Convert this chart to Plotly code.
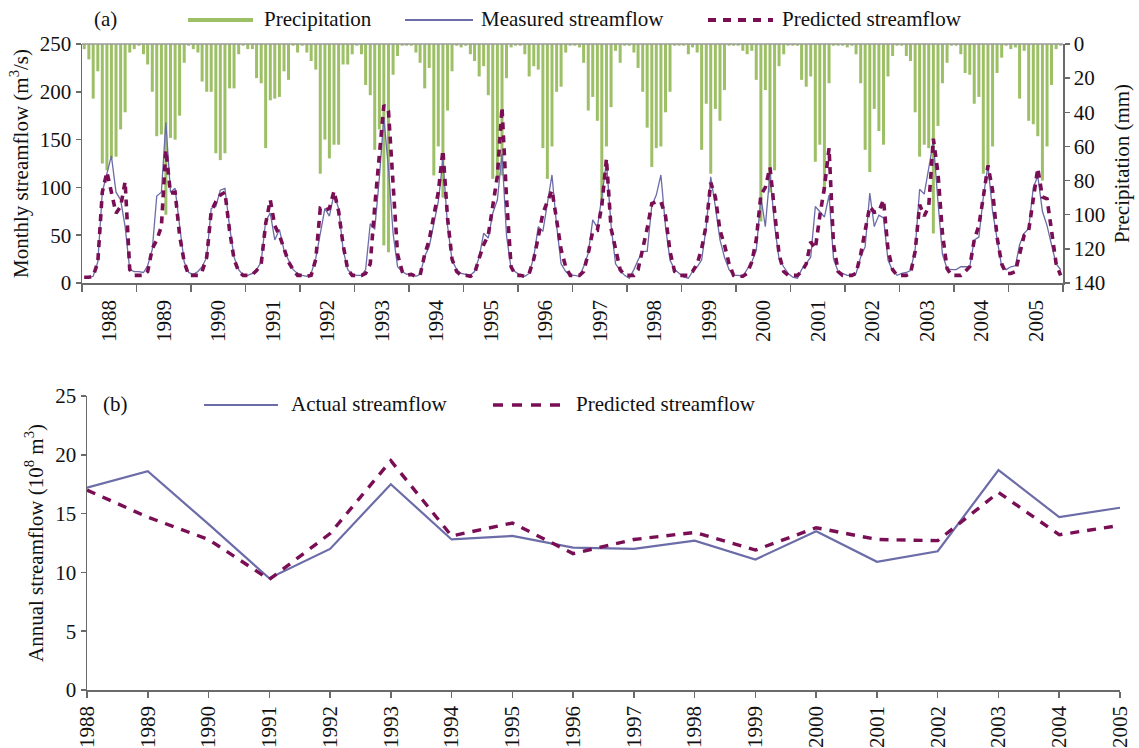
import plotly.graph_objects as go

# ---------------- data ----------------
years = list(range(1988, 2006))
month_numbers = list(range(1, 13))

# monthly precipitation (mm), one row per year (Jan..Dec)
precip_monthly = [
    3, 9, 32, 16, 70, 74, 67, 66, 50, 40, 5, 3,        # 1988
    1, 6, 12, 28, 54, 53, 100, 55, 56, 42, 11, 1,      # 1989
    3, 5, 22, 28, 28, 64, 68, 64, 26, 26, 6, 1,        # 1990
    3, 3, 20, 23, 61, 33, 32, 31, 16, 21, 1, 5,        # 1991
    1, 5, 10, 15, 76, 56, 67, 59, 59, 12, 12, 6,       # 1992
    1, 6, 24, 30, 62, 50, 118, 122, 18, 7, 1, 1,       # 1993
    1, 5, 11, 26, 14, 77, 60, 90, 39, 16, 1, 2,        # 1994
    1, 6, 10, 19, 13, 30, 79, 79, 77, 20, 2, 1,        # 1995
    1, 6, 19, 13, 15, 61, 79, 60, 28, 25, 5, 1,        # 1996
    1, 2, 11, 39, 31, 45, 91, 60, 37, 4, 11, 1,        # 1997
    1, 5, 14, 28, 49, 72, 61, 60, 40, 28, 1, 1,        # 1998
    1, 6, 2, 5, 62, 35, 76, 38, 45, 27, 1, 1,          # 1999
    1, 4, 6, 4, 21, 104, 27, 87, 74, 13, 6, 1,         # 2000
    1, 1, 21, 25, 19, 69, 59, 87, 23, 1, 1, 1,         # 2001
    2, 1, 6, 23, 62, 75, 38, 51, 59, 19, 7, 1,         # 2002
    1, 7, 10, 40, 66, 59, 61, 111, 48, 23, 11, 1,      # 2003
    1, 6, 17, 18, 35, 31, 76, 74, 60, 17, 8, 1,        # 2004
    3, 2, 32, 4, 45, 47, 54, 80, 60, 24, 3, 1,         # 2005
]

# measured monthly streamflow (m3/s)
measured_monthly = [
    6, 6, 7, 22, 95, 116, 133, 95, 87, 59, 14, 12,     # 1988
    12, 11, 18, 35, 91, 95, 168, 95, 99, 60, 22, 11,   # 1989
    9, 12, 17, 27, 78, 80, 97, 99, 59, 27, 14, 8,      # 1990
    8, 10, 14, 22, 65, 73, 45, 56, 34, 24, 14, 10,     # 1991
    8, 7, 10, 26, 52, 78, 70, 93, 78, 35, 14, 9,       # 1992
    8, 8, 14, 62, 56, 110, 173, 120, 52, 17, 12, 9,    # 1993
    10, 7, 9, 28, 38, 62, 85, 129, 60, 24, 14, 10,     # 1994
    9, 8, 12, 27, 52, 47, 73, 87, 135, 50, 15, 12,     # 1995
    8, 7, 10, 27, 59, 54, 85, 113, 60, 20, 12, 8,      # 1996
    8, 7, 17, 31, 66, 58, 90, 127, 60, 20, 13, 8,      # 1997
    5, 14, 24, 33, 33, 81, 92, 113, 59, 24, 14, 10,    # 1998
    6, 5, 12, 17, 24, 59, 111, 80, 45, 27, 14, 8,      # 1999
    8, 7, 14, 22, 34, 90, 59, 115, 60, 25, 17, 10,     # 2000
    6, 5, 14, 20, 27, 80, 75, 69, 92, 25, 12, 10,      # 2001
    8, 8, 10, 27, 38, 94, 59, 71, 68, 24, 13, 8,       # 2002
    10, 11, 13, 35, 98, 93, 118, 148, 85, 30, 15, 14,  # 2003
    14, 17, 17, 17, 45, 48, 90, 123, 75, 45, 17, 14,   # 2004
    17, 18, 40, 52, 57, 100, 112, 75, 60, 40, 20, 14,  # 2005
]

# predicted monthly streamflow (m3/s)
predicted_monthly = [
    6, 6, 7, 22, 95, 116, 95, 73, 80, 106, 14, 8,      # 1988
    8, 8, 12, 36, 45, 59, 139, 94, 95, 50, 22, 8,      # 1989
    8, 8, 12, 27, 75, 85, 92, 95, 55, 25, 12, 8,       # 1990
    8, 9, 13, 20, 62, 87, 60, 50, 36, 22, 14, 8,       # 1991
    8, 7, 8, 25, 78, 76, 78, 96, 75, 40, 14, 8,        # 1992
    8, 8, 10, 20, 80, 130, 186, 180, 108, 30, 12, 8,   # 1993
    9, 7, 8, 30, 45, 70, 95, 139, 68, 25, 12, 8,       # 1994
    8, 7, 10, 26, 40, 50, 80, 112, 184, 90, 17, 8,     # 1995
    8, 7, 10, 25, 48, 73, 85, 97, 66, 35, 17, 8,       # 1996
    8, 8, 12, 31, 54, 55, 81, 130, 57, 35, 14, 8,      # 1997
    8, 8, 14, 34, 57, 83, 85, 85, 70, 33, 12, 8,       # 1998
    8, 8, 12, 20, 36, 61, 105, 90, 55, 40, 20, 8,      # 1999
    7, 7, 10, 22, 45, 92, 100, 121, 75, 30, 12, 8,     # 2000
    8, 8, 12, 20, 43, 36, 70, 100, 141, 40, 12, 8,     # 2001
    8, 8, 10, 30, 55, 80, 74, 75, 87, 35, 14, 8,       # 2002
    8, 8, 10, 33, 82, 70, 80, 151, 115, 52, 15, 8,     # 2003
    8, 8, 12, 17, 45, 60, 90, 123, 97, 48, 20, 10,     # 2004
    10, 12, 30, 50, 55, 90, 120, 90, 88, 55, 20, 8,    # 2005
]

# annual streamflow (10^8 m3)
annual_actual = [17.2, 18.6, 14.1, 9.5, 12.0, 17.5, 12.8, 13.1, 12.1,
                 12.0, 12.7, 11.1, 13.5, 10.9, 11.8, 18.7, 14.7, 15.5]
annual_predicted = [17.0, 14.7, 12.8, 9.4, 13.3, 19.5, 13.1, 14.2, 11.6,
                    12.8, 13.4, 11.9, 13.8, 12.8, 12.7, 16.8, 13.2, 14.0]

# ---------------- style ----------------
GREEN = "#9DC067"
SLATE = "#6C6CA8"
MAG = "#7A0E55"
AXIS = "#6A6A6A"
FONT = "Liberation Serif"
FS = 21

W, H = 1139, 748
ML, MR, MT, MB = 82, 19, 44, 58
PW = W - ML - MR
PH = H - MT - MB


def px(x):
    return (x - ML) / PW


def py(y):
    return (H - MB - y) / PH


month_dates = [f"{y}-{m:02d}-16" for y in years for m in month_numbers]

fig = go.Figure()

fig.add_trace(go.Bar(
    x=month_dates, y=precip_monthly, name="Precipitation",
    marker=dict(color=GREEN, line=dict(width=0)),
    xaxis="x", yaxis="y", showlegend=False))
fig.add_trace(go.Scatter(
    x=month_dates, y=measured_monthly, name="Measured streamflow", mode="lines",
    line=dict(color=SLATE, width=1.3), xaxis="x", yaxis="y2", showlegend=False))
fig.add_trace(go.Scatter(
    x=month_dates, y=predicted_monthly, name="Predicted streamflow", mode="lines",
    line=dict(color=MAG, width=3.6, dash="7px,6px"), xaxis="x", yaxis="y2",
    showlegend=False))

fig.add_trace(go.Scatter(
    x=years, y=annual_actual, name="Actual streamflow", mode="lines",
    line=dict(color=SLATE, width=2.2), xaxis="x2", yaxis="y3", showlegend=False))
fig.add_trace(go.Scatter(
    x=years, y=annual_predicted, name="Predicted streamflow", mode="lines",
    line=dict(color=MAG, width=3.4, dash="9px,8px"), xaxis="x2", yaxis="y3",
    showlegend=False))

tickfont = dict(family=FONT, size=FS, color="#111111")
titlefont = dict(family=FONT, size=FS, color="#111111")

common = dict(showgrid=False, zeroline=False, showline=True, linecolor=AXIS,
              linewidth=1.5, ticks="outside", tickcolor=AXIS, tickwidth=1.5,
              tickfont=tickfont, automargin=False)

fig.update_layout(
    width=W, height=H,
    margin=dict(l=ML, r=MR, t=MT, b=MB),
    paper_bgcolor="white", plot_bgcolor="white",
    bargap=0.28,
    hovermode=False,
    font=dict(family=FONT, size=FS, color="#111111"),
    xaxis=dict(type="date", domain=[0, px(1063)], anchor="y",
               range=["1988-01-01", "2006-01-01"],
               tick0="1988-01-01", dtick="M12", tickformat="%Y",
               ticklabelmode="period", tickangle=-90, ticklen=7, **common),
    yaxis=dict(domain=[py(283), 1], anchor="x", side="right",
               range=[140, 0], dtick=20, ticklen=5,
               title=dict(text="Precipitation (mm)", font=titlefont, standoff=10),
               **common),
    yaxis2=dict(overlaying="y", anchor="x", side="left",
                range=[0, 250], dtick=50, ticklen=5,
                title=dict(text="Monthly streamflow (m<sup>3</sup>/s)",
                           font=titlefont, standoff=5),
                **common),
    xaxis2=dict(domain=[px(87), 1], anchor="y3", range=[1988, 2005],
                tick0=1988, dtick=1, tickangle=-90, ticklen=6, **common),
    yaxis3=dict(domain=[0, py(396)], anchor="x2", range=[0, 25], dtick=5,
                ticklen=5,
                title=dict(text="Annual streamflow (10<sup>8</sup> m<sup>3</sup>)",
                           font=titlefont, standoff=6),
                **common),
)

shapes = [
    # top border of panel (a)
    dict(type="line", xref="paper", yref="paper", x0=0, x1=px(1063),
         y0=1, y1=1, line=dict(color="#9A9A9A", width=1.5)),
    # legend samples panel (a)
    dict(type="line", xref="paper", yref="paper", x0=px(188), x1=px(253),
         y0=py(20), y1=py(20), line=dict(color=GREEN, width=4)),
    dict(type="line", xref="paper", yref="paper", x0=px(405), x1=px(473),
         y0=py(20), y1=py(20), line=dict(color=SLATE, width=1.8)),
    dict(type="line", xref="paper", yref="paper", x0=px(708), x1=px(773),
         y0=py(20), y1=py(20), line=dict(color=MAG, width=4, dash="8px,7px")),
    # legend samples panel (b)
    dict(type="line", xref="paper", yref="paper", x0=px(204), x1=px(278),
         y0=py(405), y1=py(405), line=dict(color=SLATE, width=2.2)),
    dict(type="line", xref="paper", yref="paper", x0=px(493), x1=px(566),
         y0=py(405), y1=py(405), line=dict(color=MAG, width=3.4, dash="10px,9px")),
]

annotations = []
for text, x, y in [("(a)", 92, 19), ("Precipitation", 262, 19),
                   ("Measured streamflow", 479, 19), ("Predicted streamflow", 780, 19),
                   ("(b)", 101, 404), ("Actual streamflow", 289, 404),
                   ("Predicted streamflow", 574, 404)]:
    annotations.append(dict(text=text, x=px(x), y=py(y), xref="paper", yref="paper",
                            xanchor="left", yanchor="middle", showarrow=False,
                            font=dict(family=FONT, size=FS, color="#111111")))

fig.update_layout(shapes=shapes, annotations=annotations)

fig.write_html("out.html",
               config={"displayModeBar": False, "staticPlot": True},
               post_script="document.body.style.margin='0px';"
                           "document.body.style.overflow='hidden';")
